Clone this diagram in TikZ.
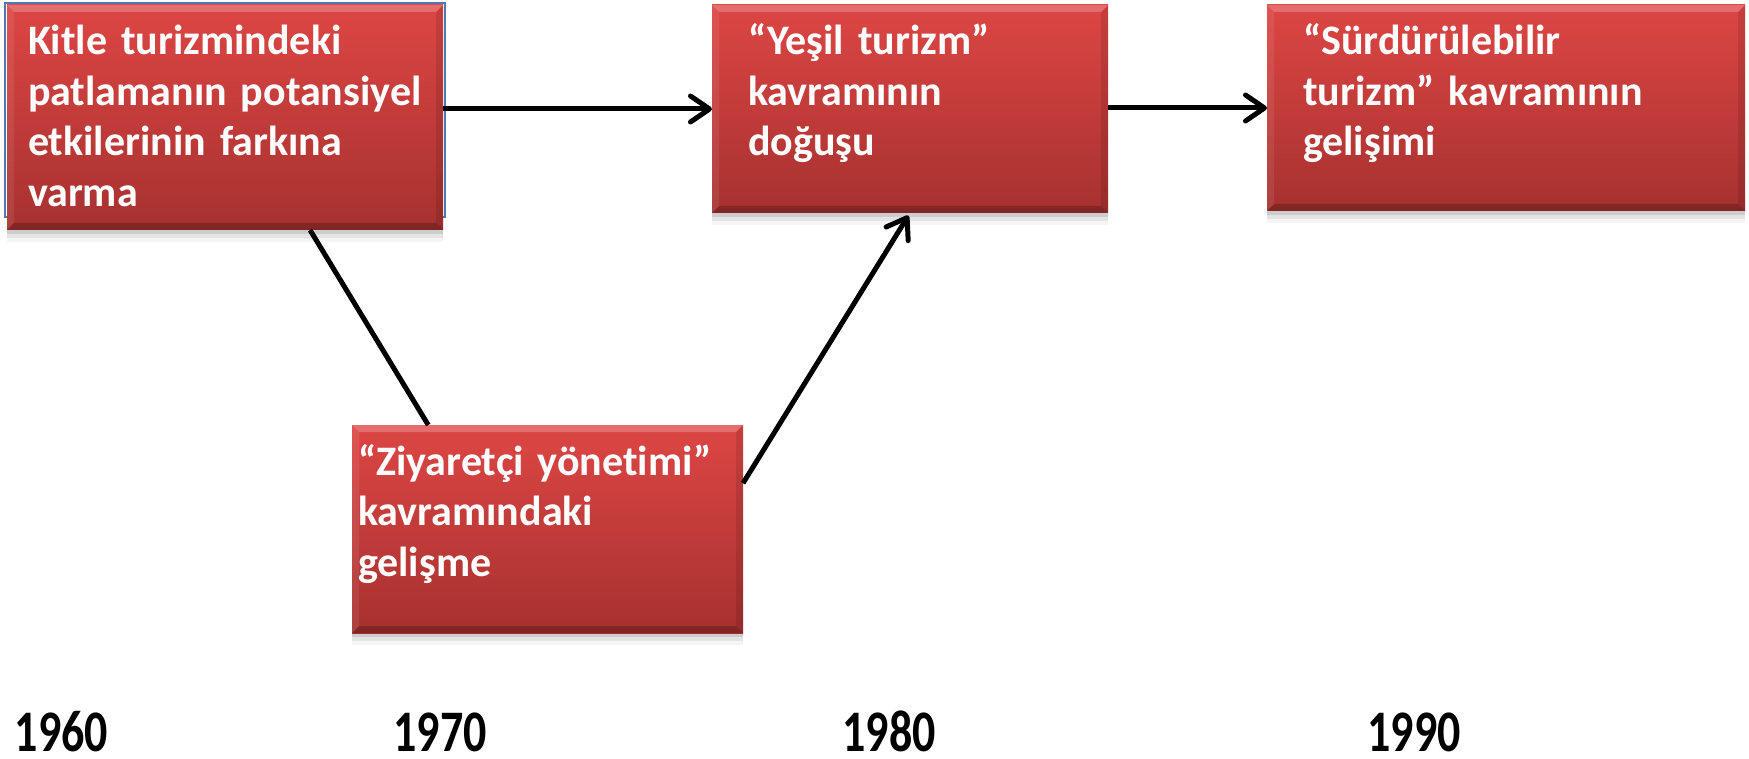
\documentclass[tikz,border=0pt]{standalone}
\usepackage{fontspec}
\setmainfont{Carlito}[Ligatures=NoCommon,WordSpace=0.93]
\usetikzlibrary{arrows.meta,calc}
\definecolor{boxtop}{RGB}{221,70,68}
\definecolor{boxbot}{RGB}{166,49,47}
\definecolor{edgeblue}{RGB}{79,120,180}
\tikzset{
  box/.style={rectangle, inner sep=0pt, outer sep=0pt, anchor=north west,
    top color=boxtop, bottom color=boxbot,
    preaction={fill=black,opacity=0.10,transform canvas={yshift=-4pt}},
    preaction={fill=black,opacity=0.07,transform canvas={yshift=-8pt}},
    preaction={fill=black,opacity=0.04,transform canvas={yshift=-12pt}},
    path picture={
      \fill[white,opacity=.22] (path picture bounding box.north west) -- (path picture bounding box.north east)
        -- ([xshift=-7pt,yshift=-7pt]path picture bounding box.north east) -- ([xshift=7pt,yshift=-7pt]path picture bounding box.north west) -- cycle;
      \fill[white,opacity=.08] (path picture bounding box.north west) -- ([xshift=7pt,yshift=-7pt]path picture bounding box.north west)
        -- ([xshift=7pt,yshift=7pt]path picture bounding box.south west) -- (path picture bounding box.south west) -- cycle;
      \fill[black,opacity=.10] (path picture bounding box.north east) -- ([xshift=-7pt,yshift=-7pt]path picture bounding box.north east)
        -- ([xshift=-7pt,yshift=7pt]path picture bounding box.south east) -- (path picture bounding box.south east) -- cycle;
      \fill[black,opacity=.22] (path picture bounding box.south west) -- (path picture bounding box.south east)
        -- ([xshift=-7pt,yshift=7pt]path picture bounding box.south east) -- ([xshift=7pt,yshift=7pt]path picture bounding box.south west) -- cycle;
    }},
  lbl/.style={text=white, inner sep=0pt, outer sep=0pt, anchor=base west, align=left,
    font=\fontsize{42}{50.5}\selectfont\bfseries},
  year/.style={text=black, inner sep=0pt, anchor=base, font=\fontsize{46}{50}\selectfont\bfseries},
  conn/.style={line width=5pt, black},
  arr/.style={conn, -{Straight Barb[length=19pt,width=26pt,line cap=round,line join=round]}},
}
\begin{document}
\begin{tikzpicture}[x=1pt,y=-1pt]
\useasboundingbox (0,0) rectangle (1749,759);
% frame behind the first box
\draw[edgeblue, line width=1.5pt] (5,3) rectangle (445,217);
\node[box, minimum width=436pt, minimum height=225pt] (b1) at (7,5) {};
\node[box, minimum width=396pt, minimum height=208pt] (b2) at (712,5) {};
\node[box, minimum width=478pt, minimum height=206pt] (b3) at (1267,5) {};
\node[box, minimum width=391pt, minimum height=208pt] (b4) at (352,425) {};

\node[lbl, text width=415pt] (t1) at (28,55) {Kitle turizmindeki\\patlamanın potansiyel\\etkilerinin farkına\\varma};
\node[lbl, text width=355pt] (t2) at (748,55) {“Yeşil turizm”\\kavramının\\doğuşu};
\node[lbl, text width=440pt] (t3) at (1303,55) {“Sürdürülebilir\\turizm” kavramının\\gelişimi};
\node[lbl, text width=385pt] (t4) at (358,475) {“Ziyaretçi yönetimi”\\kavramındaki\\gelişme};

\node[year] (y1) at (61.5,751) {\scalebox{1}[1.28]{1960}};
\node[year] (y2) at (440,751) {\scalebox{1}[1.28]{1970}};
\node[year] (y3) at (889,751) {\scalebox{1}[1.28]{1980}};
\node[year] (y4) at (1414,751) {\scalebox{1}[1.28]{1990}};

\draw[arr] (b1.east |- b2.west) -- (b2.west);
\draw[arr] (b2.east |- b3.west) -- (b3.west);
\draw[conn] ($(b1.south west)!0.695!(b1.south east)$) -- ($(b4.north west)!0.195!(b4.north east)$);
\draw[arr, shorten >=3pt] ($(b4.north east)!0.28!(b4.south east)$) -- (b2.south);
\end{tikzpicture}
\end{document}
